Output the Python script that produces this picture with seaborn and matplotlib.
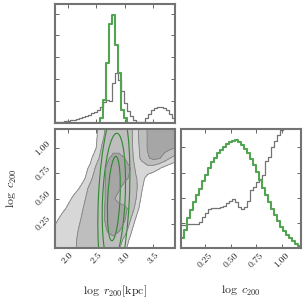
import numpy as np
import pandas as pd
import matplotlib
matplotlib.use("Agg")
import matplotlib.pyplot as plt
from matplotlib.patches import Ellipse
from matplotlib.ticker import MultipleLocator
import seaborn as sns

# ---------------- data ----------------
r_range = [1.78, 3.88]          # log r200 axis range
c_range = [0.01, 1.19]          # log c200 axis range
n_bins = 40

r_hist_gray = [0.03, 0.046, 0.061, 0.076, 0.091, 0.122, 0.152, 0.183, 0.228, 0.274,
               0.319, 0.38, 0.441, 0.517, 0.608, 0.73, 0.943, 1.065, 0.989, 1.825,
               2.28, 1.98, 1.445, 0.913, 0.532, 0.304, 0.152, 0.061, 0.03, 0.046,
               0.228, 0.411, 0.578, 0.669, 0.715, 0.715, 0.669, 0.578, 0.411, 0.228]
r_hist_green = [0, 0, 0, 0, 0, 0, 0, 0, 0, 0,
                0, 0, 0, 0, 0, 0.228, 1.065, 2.738, 4.533, 4.943,
                3.574, 2.282, 0.608, 0.228, 0, 0, 0, 0, 0, 0,
                0, 0, 0, 0, 0, 0, 0, 0, 0, 0]
c_hist_gray = [0.454, 0.454, 0.474, 0.481, 0.481, 0.481, 0.521, 0.614, 0.688, 0.768,
               0.788, 0.801, 0.801, 0.814, 0.841, 0.888, 0.935, 0.968, 0.921, 0.814,
               0.781, 0.814, 0.935, 1.148, 1.215, 1.302, 1.369, 1.455, 1.736, 1.816,
               2.003, 2.123, 2.236, 2.35, 2.537, 2.67, 2.804, 2.937, 3.004, 3.071]
c_hist_green = [0.20, 0.367, 0.587, 0.761, 0.921, 1.055, 1.175, 1.335, 1.455, 1.582,
                1.702, 1.796, 1.883, 1.956, 2.01, 2.063, 2.103, 2.136, 2.15, 2.116,
                2.056, 1.976, 1.883, 1.762, 1.642, 1.509, 1.355, 1.202, 1.048, 0.908,
                0.768, 0.648, 0.527, 0.427, 0.34, 0.267, 0.2, 0.134, 0.073, 0.033]

# 2D density level grid (rows: c values, columns: r values)
grid_r = [1.7, 1.8, 1.9, 2.0, 2.1, 2.2, 2.3, 2.4, 2.5, 2.6, 2.7, 2.8,
          2.9, 3.0, 3.1, 3.2, 3.3, 3.4, 3.5, 3.6, 3.7, 3.8, 3.9]
grid_c = [-0.1, 0.0, 0.1, 0.2, 0.3, 0.4, 0.5, 0.6, 0.7, 0.8, 0.9, 1.0, 1.1, 1.2, 1.3]
grid_level = [
    [1.25, 1.4, 1.6, 1.75, 1.92, 2.1, 2.3, 2.45, 2.55, 2.6, 2.5, 2.3, 1.8, 0.9, 0.2, 0, 0, 0, 0, 0, 0, 0, 0],
    [1.2, 1.35, 1.55, 1.7, 1.9, 2.1, 2.3, 2.45, 2.6, 2.7, 2.7, 2.5, 2.05, 1.25, 0.4, 0, 0, 0, 0, 0, 0, 0, 0],
    [1.1, 1.3, 1.5, 1.65, 1.85, 2.1, 2.35, 2.55, 2.7, 2.8, 2.9, 2.92, 2.6, 1.75, 0.8, 0.1, 0, 0, 0, 0, 0, 0, 0],
    [0.95, 1.2, 1.4, 1.55, 1.75, 2.03, 2.3, 2.5, 2.65, 2.8, 3.05, 3.2, 3.15, 2.7, 1.4, 0.3, 0, 0, 0, 0, 0, 0, 0],
    [0.55, 0.85, 1.2, 1.4, 1.65, 1.9, 2.2, 2.45, 2.65, 2.85, 3.2, 3.35, 3.35, 3.1, 2.1, 0.85, 0, 0, 0, 0, 0, 0, 0],
    [0.2, 0.5, 0.8, 1.1, 1.4, 1.75, 2.1, 2.4, 2.6, 2.8, 3.2, 3.35, 3.35, 3.2, 2.75, 1.6, 0.3, 0, 0, 0, 0, 0, 0],
    [0, 0.2, 0.5, 0.8, 1.1, 1.6, 1.95, 2.3, 2.55, 2.8, 3.15, 3.1, 2.7, 2.6, 2.4, 2.0, 0.75, 0, 0, 0, 0, 0, 0],
    [0, 0, 0.2, 0.5, 0.75, 1.0, 1.65, 2.3, 2.55, 2.8, 3.15, 3.2, 3.1, 2.6, 2.45, 2.2, 1.1, 0.2, 0, 0, 0, 0, 0],
    [0, 0, 0, 0.2, 0.45, 0.7, 0.95, 1.8, 2.45, 2.75, 3.15, 3.3, 3.3, 3.2, 2.85, 2.1, 1.35, 0.6, 0.2, 0, 0, 0, 0],
    [0, 0, 0, 0, 0.1, 0.4, 0.75, 1.2, 2.2, 2.7, 3.15, 3.3, 3.3, 3.25, 3.0, 1.7, 1.5, 1.6, 1.5, 1.1, 0.6, 0.3, 0],
    [0, 0, 0, 0, 0, 0.1, 0.4, 0.8, 1.6, 2.4, 2.9, 3.2, 3.2, 3.0, 2.4, 1.6, 2.2, 2.9, 3.2, 3.1, 2.6, 1.95, 1.5],
    [0, 0, 0, 0, 0, 0, 0.1, 0.5, 1.0, 2.1, 2.6, 2.8, 2.8, 2.7, 2.3, 1.55, 2.4, 3.05, 3.3, 3.35, 3.3, 3.15, 2.95],
    [0, 0, 0, 0, 0, 0, 0, 0.3, 0.85, 1.8, 2.4, 2.6, 2.6, 2.5, 2.2, 1.6, 2.5, 3.05, 3.4, 3.5, 3.5, 3.4, 3.3],
    [0, 0, 0, 0, 0, 0, 0, 0.2, 0.8, 1.6, 2.3, 2.5, 2.5, 2.4, 2.15, 1.7, 2.5, 3.05, 3.4, 3.5, 3.5, 3.45, 3.4],
    [0, 0, 0, 0, 0, 0, 0, 0.15, 0.75, 1.5, 2.2, 2.45, 2.45, 2.35, 2.1, 1.75, 2.5, 3.05, 3.4, 3.5, 3.5, 3.45, 3.4],
]
fill_levels = [1, 2, 3, 10]

# green posterior contours (ellipses): center, semi-axes per contour, tilt
green_center = [2.81, 0.50]
green_semi_r = [0.107, 0.197, 0.27]
green_semi_c = [0.42, 0.65, 0.92]
green_tilt_deg = -5.0

r_ticks = [2.0, 2.5, 3.0, 3.5]
c_ticks = [0.25, 0.50, 0.75, 1.00]
r_label = r"$\log\ r_{200}[\mathrm{kpc}]$"
c_label = r"$\log\ c_{200}$"

# ---------------- style ----------------
sns.set_style("ticks")
plt.rcParams["font.family"] = ["cmr10", "DejaVu Serif"]
plt.rcParams["mathtext.fontset"] = "cm"
plt.rcParams["axes.formatter.use_mathtext"] = True
plt.rcParams["axes.unicode_minus"] = False

GRAY_LINE = "0.45"
GREEN = "#52a352"
GREEN_C = "#2f872f"
SPINE = "0.45"
FILL_COLS = ["#d7d7d7", "#bebebe", "#a6a6a6"]

fig = plt.figure(figsize=(3.04, 3.04), dpi=100)
W = 120 / 304
H = 119 / 304
ax_top = fig.add_axes([55 / 304, 1 - 123 / 304, W, H])
ax_2d = fig.add_axes([55 / 304, 1 - 248 / 304, W, H])
ax_rt = fig.add_axes([181 / 304, 1 - 248 / 304, W, H])

r_edges = list(np.linspace(r_range[0], r_range[1], n_bins + 1))
c_edges = list(np.linspace(c_range[0], c_range[1], n_bins + 1))
r_cent = [0.5 * (a + b) for a, b in zip(r_edges[:-1], r_edges[1:])]
c_cent = [0.5 * (a + b) for a, b in zip(c_edges[:-1], c_edges[1:])]

df_r = pd.DataFrame({"r": r_cent, "gray": r_hist_gray, "green": r_hist_green})
df_c = pd.DataFrame({"c": c_cent, "gray": c_hist_gray, "green": c_hist_green})


def style_axes(ax):
    for s in ax.spines.values():
        s.set_color(SPINE)
        s.set_linewidth(1.5)
    ax.tick_params(direction="in", top=True, right=True, length=3, width=0.6,
                   color="0.3", labelsize=7, pad=2)


# top histogram (log r200)
sns.histplot(data=df_r, x="r", weights="gray", bins=r_edges, element="step", fill=False,
             color=GRAY_LINE, linewidth=0.9, ax=ax_top)
sns.histplot(data=df_r, x="r", weights="green", bins=r_edges, element="step", fill=False,
             color=GREEN, linewidth=1.5, ax=ax_top)
ax_top.set_xlim(r_range)
ax_top.set_ylim(0, 1.1 * max(r_hist_green))
ax_top.set_xticks(r_ticks)
ax_top.yaxis.set_major_locator(MultipleLocator(1.0))
ax_top.set_xticklabels([])
ax_top.set_yticklabels([])
ax_top.set_xlabel("")
ax_top.set_ylabel("")
style_axes(ax_top)

# 2D panel
ax_2d.contourf(grid_r, grid_c, grid_level, levels=fill_levels, colors=FILL_COLS)
ax_2d.contour(grid_r, grid_c, grid_level, levels=fill_levels[:3], colors="0.5",
              linewidths=0.6)
for sr, sc in zip(green_semi_r, green_semi_c):
    ax_2d.add_patch(Ellipse(green_center, width=2 * sr, height=2 * sc,
                            angle=green_tilt_deg, fill=False, edgecolor=GREEN_C,
                            linewidth=0.8))
ax_2d.set_xlim(r_range)
ax_2d.set_ylim(c_range)
ax_2d.set_xticks(r_ticks)
ax_2d.set_xticklabels([f"{t:.1f}" for t in r_ticks], rotation=45, ha="center")
ax_2d.set_yticks(c_ticks)
ax_2d.set_yticklabels([f"{t:.2f}" for t in c_ticks], rotation=45, va="center")
style_axes(ax_2d)
ax_2d.set_xlabel(r_label, fontsize=8.5)
ax_2d.set_ylabel(c_label, fontsize=8.5)
ax_2d.xaxis.set_label_coords(0.5, -0.3)
ax_2d.yaxis.set_label_coords(-0.3, 0.5)

# right histogram (log c200)
sns.histplot(data=df_c, x="c", weights="gray", bins=c_edges, element="step", fill=False,
             color=GRAY_LINE, linewidth=0.9, ax=ax_rt)
sns.histplot(data=df_c, x="c", weights="green", bins=c_edges, element="step", fill=False,
             color=GREEN, linewidth=1.5, ax=ax_rt)
ax_rt.set_xlim(c_range)
ax_rt.set_ylim(0, 1.1 * max(c_hist_green))
ax_rt.set_xticks(c_ticks)
ax_rt.set_xticklabels([f"{t:.2f}" for t in c_ticks], rotation=45, ha="center")
ax_rt.yaxis.set_major_locator(MultipleLocator(0.5))
ax_rt.set_yticklabels([])
ax_rt.set_ylabel("")
style_axes(ax_rt)
ax_rt.set_xlabel(c_label, fontsize=8.5)
ax_rt.xaxis.set_label_coords(0.5, -0.3)

fig.savefig("out.png", dpi=100)
